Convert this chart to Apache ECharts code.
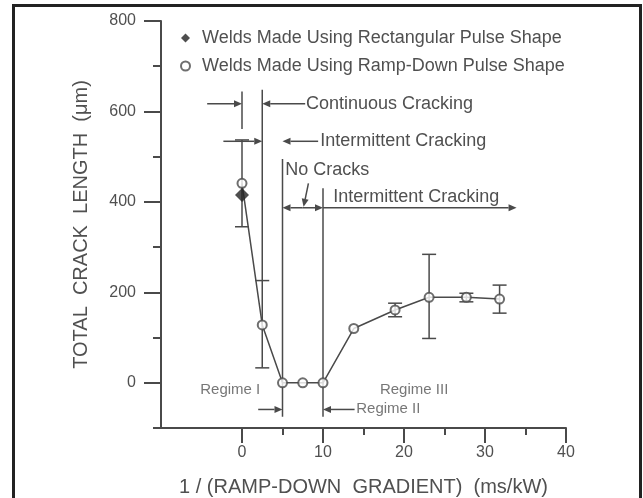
<!DOCTYPE html>
<html><head><meta charset="utf-8">
<script src="https://cdn.jsdelivr.net/npm/echarts@6/dist/echarts.min.js"></script>
<style>
html,body{margin:0;padding:0;background:#fff;overflow:hidden;width:643px;height:498px;}
#frame{position:absolute;left:12px;top:4px;width:624px;height:500px;border:3px solid #222;border-bottom:none;}
#chart{position:absolute;left:0;top:0;width:643px;height:498px;}
</style></head>
<body><div id="frame"></div><div id="chart"></div>
<script>
// ---- data ----
const legendNames = ['Welds Made Using Rectangular Pulse Shape', 'Welds Made Using Ramp-Down Pulse Shape'];
const rectX = [0];
const rectY = [415];
const rectLow = [345];
const rectHigh = [537];
const rampX = [0, 2.5, 5, 7.5, 10, 13.8, 18.9, 23.1, 27.7, 31.8];
const rampY = [441, 128, 0, 0, 0, 120, 161, 189, 189, 185];
const rampLow = [null, 33, null, null, null, null, 146, 98, 179, 154];
const rampHigh = [null, 226, null, null, null, null, 176, 284, 198, 216];
const xMajorTicks = [0, 10, 20, 30, 40];
const xMinorTicks = [5, 15, 25, 35];
const yMajorTicks = [0, 200, 400, 600, 800];
const yMinorTicks = [-100, 100, 300, 500, 700];
// annotation vertical lines: [x, yFrom, yTo]
const annVLines = [[0, 561, 644], [2.5, 226, 648], [5, -75, 495], [10, -75, 430]];
// annotation arrows: [x1, y1, x2, y2] arrowhead at (x2, y2)
const annArrows = [
  [-4.3, 617, 0, 617], [7.8, 617, 2.5, 617],
  [-2.3, 534, 2.5, 534], [9.4, 534, 5, 534],
  [7.5, 387, 5, 387], [7.5, 387, 10, 387], [10, 387, 33.9, 387],
  [8.2, 441, 7.6, 389],
  [2.0, -59, 5, -59], [13.9, -59, 10, -59]
];
// annotation texts
const annTexts = ['Continuous Cracking', 'Intermittent Cracking', 'No Cracks', 'Intermittent Cracking', 'Regime I', 'Regime III', 'Regime II'];
const annTextX = [7.9, 9.65, 5.35, 11.25, -1.45, 21.25, 14.1];
const annTextY = [617, 534, 470, 411, -16, -16, -58];
const annTextAlign = ['left', 'left', 'left', 'left', 'center', 'center', 'left'];
const annTextSize = [18, 18, 18, 18, 15, 15, 15];

const FONT = '"Liberation Sans", Arial, sans-serif';
const TXT = '#505050';
const LN = '#4a4a4a';

const chart = echarts.init(document.getElementById('chart'), null, {renderer: 'canvas'});

function errData(xs, lo, hi) {
  const out = [];
  xs.forEach((x, i) => { if (lo[i] != null && hi[i] != null) out.push([x, lo[i], hi[i]]); });
  return out;
}

function renderErr(params, api) {
  const x = api.value(0);
  const p1 = api.coord([x, api.value(1)]);
  const p2 = api.coord([x, api.value(2)]);
  const w = 7;
  const st = {stroke: LN, lineWidth: 1.5};
  return {type: 'group', children: [
    {type: 'line', shape: {x1: p1[0], y1: p1[1], x2: p2[0], y2: p2[1]}, style: st},
    {type: 'line', shape: {x1: p1[0] - w, y1: p1[1], x2: p1[0] + w, y2: p1[1]}, style: st},
    {type: 'line', shape: {x1: p2[0] - w, y1: p2[1], x2: p2[0] + w, y2: p2[1]}, style: st}
  ]};
}

function renderVLine(params, api) {
  const x = api.value(0);
  const p1 = api.coord([x, api.value(1)]);
  const p2 = api.coord([x, api.value(2)]);
  return {type: 'line', shape: {x1: p1[0], y1: p1[1], x2: p2[0], y2: p2[1]}, style: {stroke: LN, lineWidth: 1.5}};
}

function renderArrow(params, api) {
  const a = api.coord([api.value(0), api.value(1)]);
  const b = api.coord([api.value(2), api.value(3)]);
  const dx = b[0] - a[0], dy = b[1] - a[1];
  const len = Math.sqrt(dx * dx + dy * dy) || 1;
  const ux = dx / len, uy = dy / len;
  const L = 8, H = 3.5;
  const bx = b[0] - ux * L, by = b[1] - uy * L;
  return {type: 'group', children: [
    {type: 'line', shape: {x1: a[0], y1: a[1], x2: bx, y2: by}, style: {stroke: LN, lineWidth: 1.5}},
    {type: 'polygon', shape: {points: [[b[0], b[1]], [bx - uy * H, by + ux * H], [bx + uy * H, by - ux * H]]}, style: {fill: LN}}
  ]};
}

function renderText(params, api) {
  const i = params.dataIndex;
  const p = api.coord([api.value(0), api.value(1)]);
  const isRegime = annTextSize[i] < 16;
  return {type: 'text', x: p[0], y: p[1], style: {
    text: annTexts[i], fill: isRegime ? '#777' : TXT,
    font: annTextSize[i] + 'px ' + FONT, align: annTextAlign[i], verticalAlign: 'middle'
  }};
}

const option = {
  backgroundColor: 'transparent',
  animation: false,
  grid: {left: 161, right: 77, top: 21, bottom: 70, outerBoundsMode: 'none', containLabel: false},
  legend: {
    orient: 'vertical', left: 175, top: 24, itemGap: 10, itemWidth: 9, itemHeight: 9,
    textStyle: {color: TXT, fontSize: 18, fontFamily: FONT, padding: [0, 0, 0, 7]},
    data: [{name: legendNames[0], icon: 'diamond'}, {name: legendNames[1], icon: 'emptyCircle'}]
  },
  xAxis: [
    {type: 'value', min: -10, max: 40, position: 'bottom', splitLine: {show: false},
     axisLine: {show: true, onZero: false, lineStyle: {color: LN, width: 2}},
     axisTick: {show: true, customValues: xMajorTicks, length: 15, lineStyle: {color: LN, width: 2}},
     axisLabel: {customValues: xMajorTicks, margin: 17, color: TXT, fontSize: 16, fontFamily: FONT},
     name: '1 / (RAMP-DOWN  GRADIENT)  (ms/kW)', nameLocation: 'middle', nameGap: 49,
     nameTextStyle: {color: TXT, fontSize: 20, fontFamily: FONT}},
    {type: 'value', min: -10, max: 40, position: 'bottom', splitLine: {show: false},
     axisLine: {show: false, onZero: false},
     axisTick: {show: true, customValues: xMinorTicks, length: 7, lineStyle: {color: LN, width: 2}},
     axisLabel: {show: false}}
  ],
  yAxis: [
    {type: 'value', min: -100, max: 800, position: 'left', splitLine: {show: false},
     axisLine: {show: true, onZero: false, lineStyle: {color: LN, width: 2}},
     axisTick: {show: true, customValues: yMajorTicks, length: 17, lineStyle: {color: LN, width: 2}},
     axisLabel: {customValues: yMajorTicks, margin: 25, color: TXT, fontSize: 16, fontFamily: FONT},
     name: 'TOTAL  CRACK  LENGTH  (μm)', nameLocation: 'middle', nameGap: 70,
     nameTextStyle: {color: TXT, fontSize: 20, fontFamily: FONT}},
    {type: 'value', min: -100, max: 800, position: 'left', splitLine: {show: false},
     axisLine: {show: false, onZero: false},
     axisTick: {show: true, customValues: yMinorTicks, length: 8, lineStyle: {color: LN, width: 2}},
     axisLabel: {show: false}}
  ],
  series: [
    {type: 'line', name: 'trend', data: rampX.map((x, i) => [x, rampY[i]]), symbol: 'none',
     lineStyle: {color: LN, width: 1.5}, z: 2, silent: true},
    {type: 'custom', name: 'errRamp', data: errData(rampX, rampLow, rampHigh), renderItem: renderErr, z: 3, silent: true},
    {type: 'custom', name: 'errRect', data: errData(rectX, rectLow, rectHigh), renderItem: renderErr, z: 3, silent: true},
    {type: 'custom', name: 'vlines', data: annVLines, renderItem: renderVLine, z: 3, silent: true},
    {type: 'custom', name: 'arrows', data: annArrows, renderItem: renderArrow, z: 3, silent: true},
    {type: 'custom', name: 'texts', data: annTextX.map((x, i) => [x, annTextY[i]]), renderItem: renderText, z: 4, silent: true},
    {type: 'scatter', name: legendNames[1], data: rampX.map((x, i) => [x, rampY[i]]), symbol: 'emptyCircle', symbolSize: 9,
     itemStyle: {color: LN, borderWidth: 1.2}, z: 5},
    {type: 'scatter', name: legendNames[0], data: rectX.map((x, i) => [x, rectY[i]]), symbol: 'diamond', symbolSize: 14,
     itemStyle: {color: '#222'}, z: 6}
  ]
};
chart.setOption(option);
</script>
</body></html>
